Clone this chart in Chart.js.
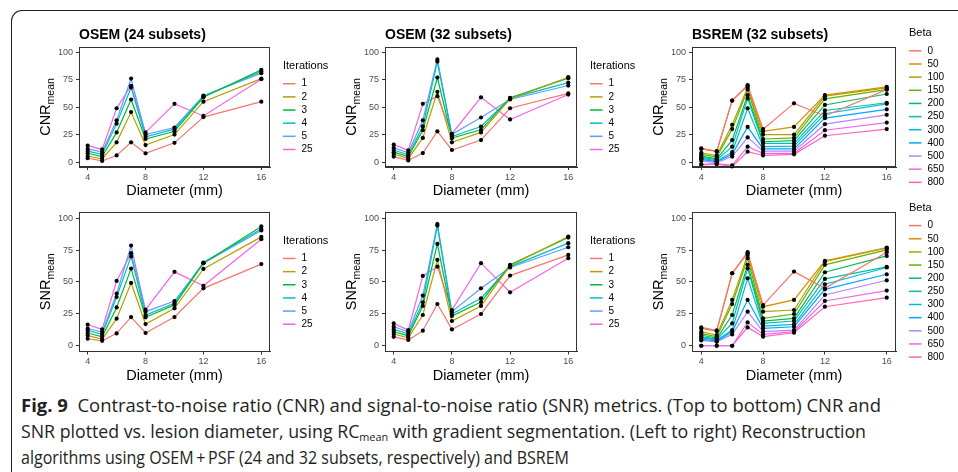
<!DOCTYPE html>
<html>
<head>
<meta charset="utf-8">
<script src="https://cdn.jsdelivr.net/npm/chart.js@4.4.0/dist/chart.umd.min.js"></script>
<style>
body { margin: 0; background: #fff; width: 958px; height: 472px; overflow: hidden; position: relative; }
.frame { position: absolute; left: 11px; top: 10px; width: 1000px; height: 520px;
  border-top: 1px solid #231f20; border-left: 1px solid #231f20; border-top-left-radius: 11px; }
canvas { position: absolute; }
.cap { position: absolute; left: 21px; top: 392px; font-family: 'Open Sans', Lato, sans-serif;
  font-size: 18px; line-height: 26px; color: #231f20; white-space: nowrap; }
.cap span.ln { display: inline-block; transform-origin: 0 50%; }
.cap sub { font-size: 11px; vertical-align: -3px; line-height: 0; }
</style>
</head>
<body>
<div class="frame"></div>
<div id="charts"></div>
<div class="cap">
<span class="ln" data-w="860"><b>Fig. 9</b>&nbsp; Contrast-to-noise ratio (CNR) and signal-to-noise ratio (SNR) metrics. (Top to bottom) CNR and</span><br>
<span class="ln" data-w="845">SNR plotted vs. lesion diameter, using RC<sub>mean</sub> with gradient segmentation. (Left to right) Reconstruction</span><br>
<span class="ln" data-w="548">algorithms using OSEM&#8201;+&#8201;PSF (24 and 32 subsets, respectively) and BSREM</span>
</div>
<script>
// data
var diameters = [4, 5, 6, 7, 8, 10, 12, 16];
var xTicks = [4, 8, 12, 16];
var yTicks = [0, 25, 50, 75, 100];

var iterations = ['1', '2', '3', '4', '5', '25'];
var betas = ['0', '50', '100', '150', '200', '250', '300', '400', '500', '650', '800'];

var iterColors = ['#F8766D', '#B79F00', '#00BA38', '#00BFC4', '#619CFF', '#F564E3'];
var betaColors = ['#F8766D', '#DB8E00', '#AEA200', '#64B200', '#00BD5C', '#00C1A7',
                  '#00BADE', '#00A6FF', '#B385FF', '#EF67EB', '#FF63B6'];

// one row per iteration / beta, one column per diameter
var cnrOsem24 = [
  [3.5, 1, 6, 18, 8, 17.5, 41, 55],
  [5.5, 3, 18, 45.5, 15.5, 25, 55, 76],
  [8, 5, 27, 57, 21, 28, 59, 84],
  [10, 7, 35, 68, 23, 30, 60, 82.5],
  [12, 9, 38, 76, 25, 31.5, 60.5, 81],
  [15, 11.5, 49, 69.5, 27, 53, 42, 75.5]
];
var cnrOsem32 = [
  [5, 1.5, 8.2, 28, 11, 20, 49, 62.5],
  [7.3, 3.3, 22, 64, 18, 27, 57.5, 77.3],
  [9, 5, 29, 77, 21.8, 29.4, 58.5, 76.4],
  [11, 6.7, 32.5, 91.5, 23.3, 32.4, 58, 72.4],
  [13, 8.5, 38, 93.5, 25.2, 40.6, 57, 69.7],
  [16, 10.6, 53, 60, 25.8, 59, 38.8, 61.5]
];
var cnrBsrem = [
  [12.5, 10, 56, 70, 30, 53.5, 42, 66],
  [12, 9.5, 56, 69.5, 28, 32, 61, 68.5],
  [8.5, 6, 34, 68, 25, 25, 60, 67.5],
  [7, 4.5, 30, 66, 21, 22, 57.5, 66],
  [5.5, 3, 20, 61, 18.5, 19.5, 52, 62],
  [4.5, 2, 14, 58, 17, 17, 47, 54],
  [3.5, 1, 9, 49, 14, 14.5, 44, 53],
  [2.5, 0.5, 7, 32, 12, 12, 40, 48],
  [1, -0.5, 5, 22.5, 10, 10, 34.5, 43],
  [-2, -1.5, -3, 14, 8, 8, 29, 36],
  [-2.5, -2, -4, 9.5, 6, 7, 24, 30]
];
var snrOsem24 = [
  [5.5, 3.9, 9.7, 22.5, 10, 22.5, 45, 64],
  [8, 5.2, 21.2, 49.2, 17, 29.3, 60.2, 85.3],
  [10, 7, 30, 60.5, 22.3, 32, 64.7, 93.5],
  [12, 8.9, 38.2, 70, 24, 33.2, 65.2, 91.4],
  [13.5, 10.7, 40.8, 78.5, 26.7, 35, 64.7, 90.3],
  [16.5, 12.8, 50.8, 72.5, 28.3, 57.9, 47, 83.5]
];
var snrOsem32 = [
  [7, 4.5, 11.8, 32.7, 12.8, 24.9, 55, 71.2],
  [9.2, 6.3, 24.1, 67.3, 19.4, 31.2, 62.8, 85.6],
  [11, 7.9, 31.2, 79.8, 23.3, 34.3, 63.4, 84.8],
  [12.8, 9.4, 34, 94.2, 24.9, 37.2, 62, 80.4],
  [14.9, 11, 39.3, 95.3, 26.7, 45, 61.3, 77.2],
  [17.5, 12.3, 54.7, 62, 28, 64.7, 41.9, 68.6]
];
var snrBsrem = [
  [14.4, 12, 56.8, 72.5, 31.9, 58.1, 45, 73.3],
  [13.6, 11.5, 56.8, 73.3, 30.6, 35.9, 66.5, 77],
  [11, 8.4, 35.9, 71.2, 26.7, 28, 66, 76.4],
  [9.7, 7, 32.7, 68.6, 21.5, 24.9, 63.4, 75.1],
  [8.4, 5.8, 24.1, 63.4, 19.4, 21.5, 57.6, 70.4],
  [7, 5.2, 17.5, 60.7, 17.5, 19.4, 52.4, 61.8],
  [6.3, 4.5, 12.3, 52.9, 15.4, 16.8, 48.2, 61.3],
  [5.2, 3.7, 11, 35.9, 13.6, 14.9, 44.2, 56],
  [4.2, 3.1, 8.9, 26.7, 11, 12.3, 39.8, 51.3],
  [0, 0, 0, 18.3, 8.9, 11, 35.1, 43.2],
  [0, 0, 0, 14.4, 7.1, 10.2, 30.6, 37.7]
];

var FONT = "'Liberation Sans', Arial, sans-serif";
Chart.defaults.font.family = FONT;

// canvas box [left, top, width, height] and plot area [left, top, right, bottom]
var panels = [
  { rows: cnrOsem24, names: iterations, colors: iterColors, title: 'OSEM (24 subsets)', yLab: 'CNR', legTitle: 'Iterations',
    box: [20, 20, 322, 181], area: [79, 47, 270, 167] },
  { rows: cnrOsem32, names: iterations, colors: iterColors, title: 'OSEM (32 subsets)', yLab: 'CNR', legTitle: 'Iterations',
    box: [342, 20, 297, 181], area: [385, 47, 577, 167] },
  { rows: cnrBsrem, names: betas, colors: betaColors, title: 'BSREM (32 subsets)', yLab: 'CNR', legTitle: 'Beta',
    box: [640, 20, 318, 181], area: [692, 47, 896, 167] },
  { rows: snrOsem24, names: iterations, colors: iterColors, title: '', yLab: 'SNR', legTitle: 'Iterations',
    box: [20, 201, 322, 182], area: [79, 212, 270, 351.5] },
  { rows: snrOsem32, names: iterations, colors: iterColors, title: '', yLab: 'SNR', legTitle: 'Iterations',
    box: [342, 201, 297, 182], area: [385, 212, 577, 351.5] },
  { rows: snrBsrem, names: betas, colors: betaColors, title: '', yLab: 'SNR', legTitle: 'Beta',
    box: [640, 201, 318, 182], area: [692, 212, 896, 351.5] }
];

var Y_AXIS_W = 20, X_AXIS_H = 33;

var decor = {
  id: 'decor',
  afterDatasetsDraw: function(chart) {
    var ctx = chart.ctx;
    ctx.save();
    ctx.fillStyle = '#000';
    chart.data.datasets.forEach(function(ds, i) {
      chart.getDatasetMeta(i).data.forEach(function(pt) {
        ctx.beginPath();
        ctx.arc(pt.x, pt.y, 2.1, 0, Math.PI * 2);
        ctx.fill();
      });
    });
    ctx.restore();
  },
  afterDraw: function(chart, args, o) {
    var ctx = chart.ctx, a = chart.chartArea;
    var cy = (a.top + a.bottom) / 2;
    ctx.save();
    // panel border
    ctx.strokeStyle = '#333';
    ctx.lineWidth = 1;
    ctx.strokeRect(Math.round(a.left) + 0.5, Math.round(a.top) + 0.5, Math.round(a.right - a.left) - 1, Math.round(a.bottom - a.top) - 1);

    // panel title
    if (o.title) {
      ctx.fillStyle = '#000';
      ctx.font = 'bold 14px ' + FONT;
      ctx.textBaseline = 'alphabetic';
      ctx.textAlign = 'left';
      ctx.fillText(o.title, a.left, a.top - 8);
    }

    // y title with subscript
    ctx.save();
    ctx.translate(a.left - 33.5, cy);
    ctx.rotate(-Math.PI / 2);
    ctx.fillStyle = '#000';
    ctx.textBaseline = 'alphabetic';
    ctx.textAlign = 'left';
    ctx.font = '14.5px ' + FONT;
    var w1 = ctx.measureText(o.yLab).width;
    ctx.font = '10.5px ' + FONT;
    var w2 = ctx.measureText('mean').width;
    var sx = -(w1 + w2) / 2;
    ctx.font = '14.5px ' + FONT;
    ctx.fillText(o.yLab, sx, 4.5);
    ctx.font = '10.5px ' + FONT;
    ctx.fillText('mean', sx + w1, 8);
    ctx.restore();

    // legend
    var n = chart.data.datasets.length;
    var ty = cy - (17.6 + (n - 1) * 13.15) / 2 + 0.8;
    var lx = a.right + 13;
    ctx.fillStyle = '#000';
    ctx.textBaseline = 'middle';
    ctx.textAlign = 'left';
    ctx.font = '11px ' + FONT;
    ctx.fillText(o.legTitle, lx, ty);
    ctx.font = '10px ' + FONT;
    chart.data.datasets.forEach(function(ds, i) {
      var y = ty + 17.6 + i * 13.15;
      ctx.strokeStyle = ds.borderColor;
      ctx.lineWidth = 1.5;
      ctx.beginPath();
      ctx.moveTo(lx, y);
      ctx.lineTo(lx + 12.5, y);
      ctx.stroke();
      ctx.fillStyle = '#000';
      ctx.fillText(ds.label, lx + 18.5, y);
    });
    ctx.restore();
  }
};

var holder = document.getElementById('charts');
panels.forEach(function(p) {
  var cv = document.createElement('canvas');
  cv.width = p.box[2];
  cv.height = p.box[3];
  cv.style.left = p.box[0] + 'px';
  cv.style.top = p.box[1] + 'px';
  holder.appendChild(cv);

  var pad = {
    left: p.area[0] - p.box[0] - Y_AXIS_W,
    top: p.area[1] - p.box[1],
    right: p.box[0] + p.box[2] - p.area[2],
    bottom: p.box[1] + p.box[3] - p.area[3] - X_AXIS_H
  };

  new Chart(cv, {
    type: 'line',
    data: {
      datasets: p.rows.map(function(vals, i) {
        return {
          label: p.names[i],
          data: diameters.map(function(d, j) { return { x: d, y: vals[j] }; }),
          borderColor: p.colors[i],
          borderWidth: 1.2,
          pointRadius: 0,
          tension: 0,
          fill: false
        };
      })
    },
    options: {
      responsive: false,
      animation: false,
      layout: { padding: pad },
      plugins: {
        legend: { display: false },
        tooltip: { enabled: false },
        decor: { title: p.title, yLab: p.yLab, legTitle: p.legTitle }
      },
      scales: {
        x: {
          type: 'linear', min: 3.4, max: 16.6,
          afterBuildTicks: function(s) { s.ticks = xTicks.map(function(v) { return { value: v }; }); },
          afterFit: function(s) { s.height = X_AXIS_H; },
          grid: { drawOnChartArea: false, tickLength: 3, color: '#333' },
          border: { color: '#333' },
          ticks: { padding: 2, color: '#4d4d4d', autoSkip: false, maxRotation: 0, font: { size: 9 } },
          title: { display: true, text: 'Diameter (mm)', color: '#000', padding: 0, font: { size: 14.5 } }
        },
        y: {
          type: 'linear', min: -4.5, max: 104.8,
          afterBuildTicks: function(s) { s.ticks = yTicks.map(function(v) { return { value: v }; }); },
          afterFit: function(s) { s.width = Y_AXIS_W; },
          grid: { drawOnChartArea: false, tickLength: 3, color: '#333' },
          border: { color: '#333' },
          ticks: { padding: 3, color: '#4d4d4d', font: { size: 9 } }
        }
      }
    },
    plugins: [decor]
  });
});

// squeeze each caption line to the width it has in the figure
function fitCaption() {
  document.querySelectorAll('.cap .ln').forEach(function(el) {
    el.style.transform = 'none';
    var w = el.getBoundingClientRect().width;
    el.style.transform = 'scaleX(' + (Number(el.dataset.w) / w) + ')';
  });
}
fitCaption();
if (document.fonts) document.fonts.ready.then(fitCaption);
</script>
</body>
</html>
